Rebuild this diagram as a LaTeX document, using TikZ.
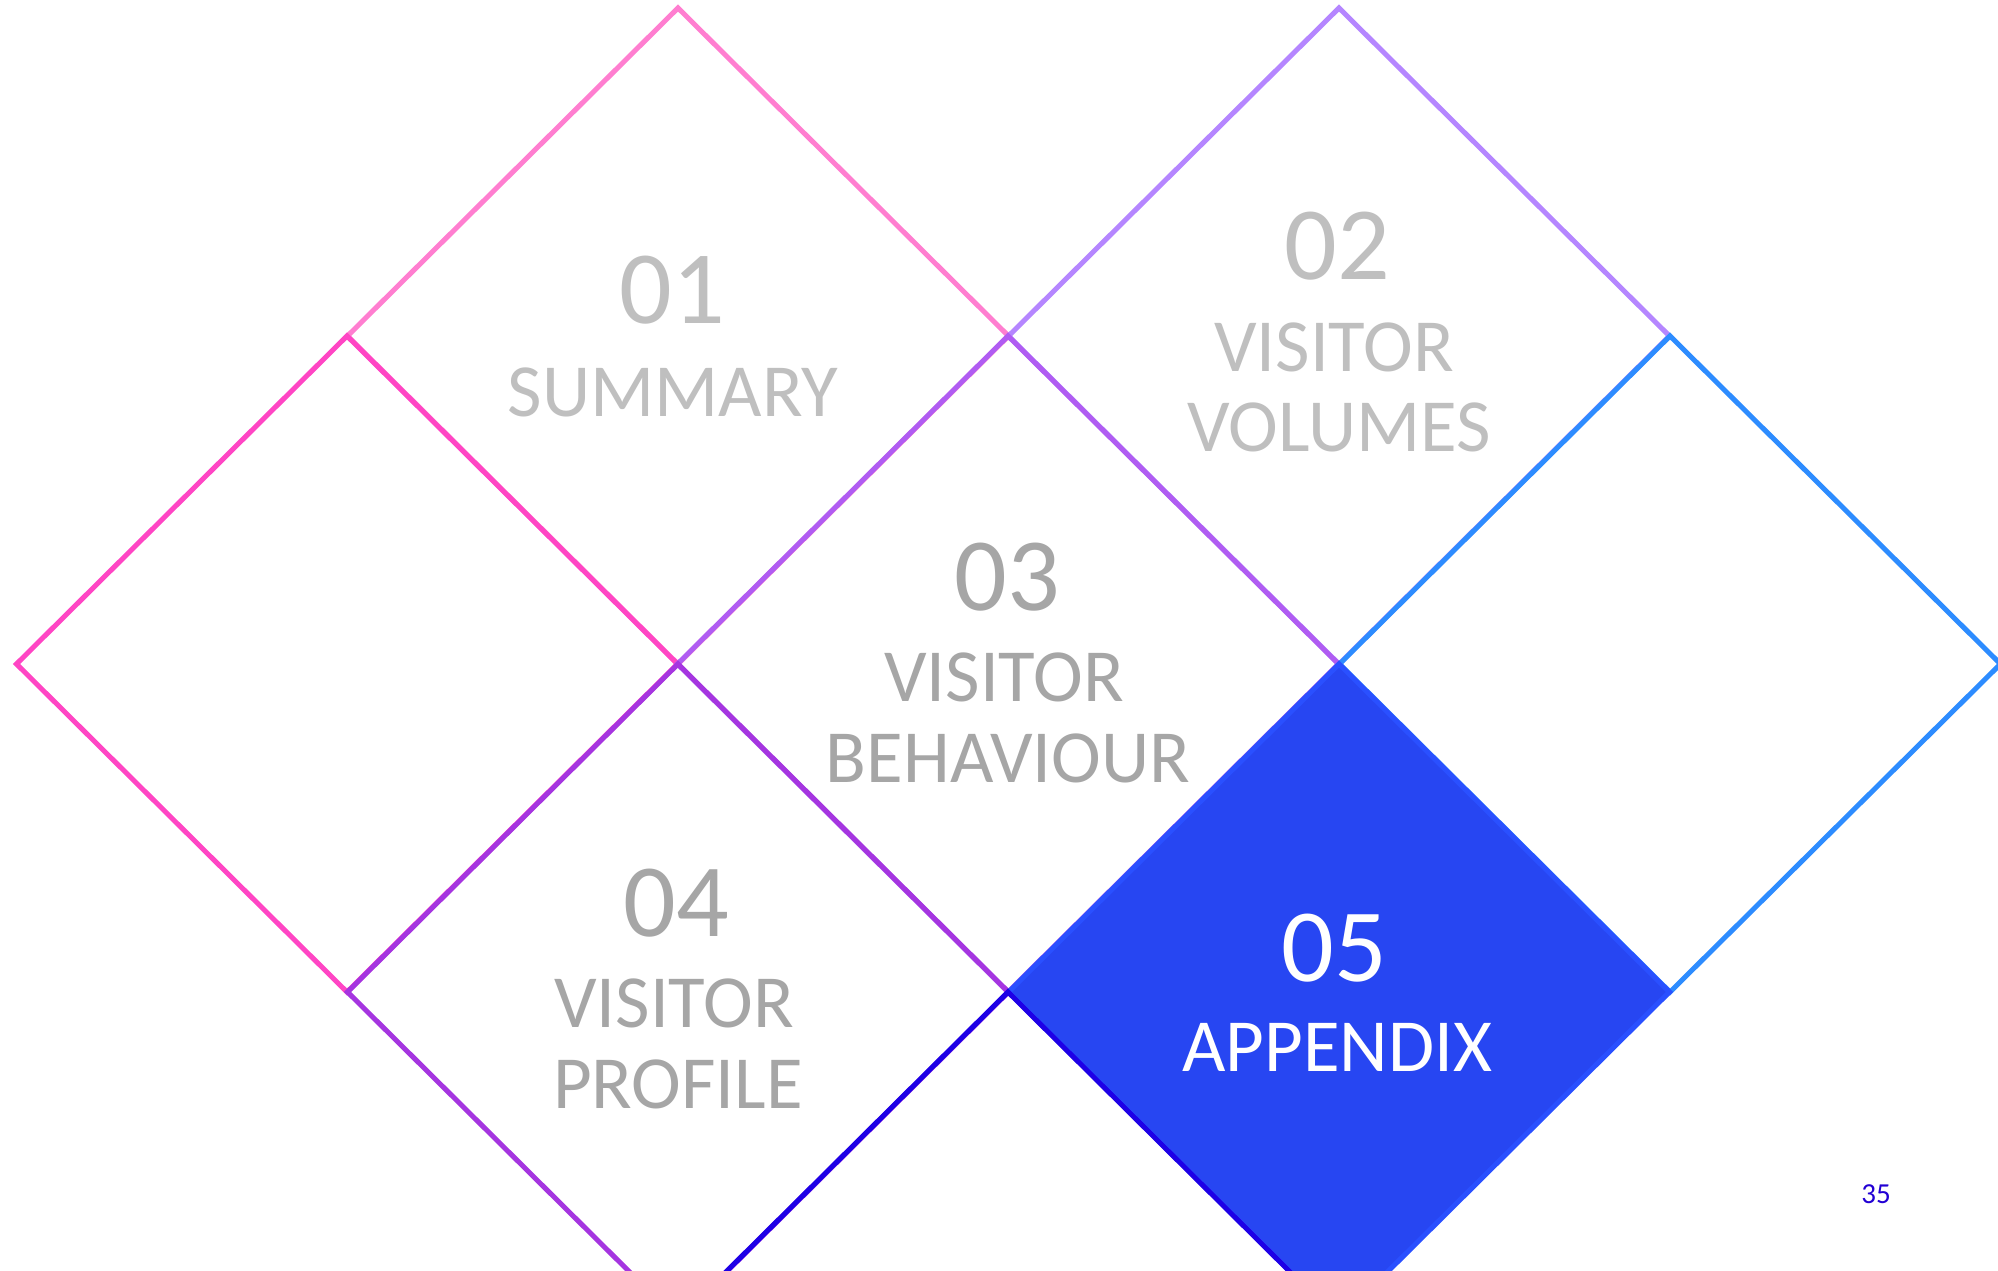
\documentclass[tikz,border=0pt]{standalone}
\usepackage{fontspec}
\setmainfont{Carlito}
\usetikzlibrary{positioning}
\definecolor{pinklt}{HTML}{FF7ED0}
\definecolor{pinkhot}{HTML}{FF45C4}
\definecolor{lavender}{HTML}{B586FF}
\definecolor{purplemid}{HTML}{B05CF2}
\definecolor{skyblue}{HTML}{2D8CFF}
\definecolor{violetmid}{HTML}{A535E0}
\definecolor{royalfill}{HTML}{2746F2}
\definecolor{royaledge}{HTML}{2A50FF}
\definecolor{inkblue}{HTML}{1E00E6}
\definecolor{greylt}{HTML}{BFBFBF}
\definecolor{greydk}{HTML}{A6A6A6}
\definecolor{pagenum}{HTML}{2200D4}

\begin{document}
\begin{tikzpicture}[x=1pt,y=-1pt,
  tile/.style={line width=5pt},
  num/.style={inner sep=0pt,font=\fontsize{104}{110}\selectfont},
  lab/.style={inner sep=0pt,font=\fontsize{75}{80}\selectfont}]
\useasboundingbox (0,0) rectangle (1998,1271);
\clip (0,0) rectangle (1998,1271);
\fill[white] (0,0) rectangle (1998,1271);
% outlined tiles, back to front
\foreach \cx/\cy/\col in {678/336/pinklt,1339/336/lavender,347/664/pinkhot,1008/664/purplemid,1670/664/skyblue,678/992/violetmid}
  \draw[tile,\col] (\cx-330.5,\cy) -- (\cx,\cy-328) -- (\cx+330.5,\cy) -- (\cx,\cy+328) -- cycle;
% the highlighted tile and the one below the page
\filldraw[tile,fill=royalfill,draw=royaledge] (1008.5,992) -- (1339,664) -- (1669.5,992) -- (1339,1320) -- cycle;
\draw[tile,inkblue] (677.5,1320) -- (1008,992) -- (1338.5,1320) -- (1008,1648) -- cycle;
% labels
\node[num,text=greylt] (n01) at (672,290) {01};
\node[lab,text=greylt] (s01) at (673,392) {SUMMARY};
\node[num,text=greylt] (n02) at (1337,246) {02};
\node[lab,text=greylt] (s02a) at (1334,347) {VISITOR};
\node[lab,text=greylt] (s02b) at (1339,427) {VOLUMES};
\node[num,text=greydk] (n03) at (1007,577) {03};
\node[lab,text=greydk] (s03a) at (1004,677) {VISITOR};
\node[lab,text=greydk] (s03b) at (1008,758) {BEHAVIOUR};
\node[num,text=greydk] (n04) at (676,903) {04};
\node[lab,text=greydk] (s04a) at (674,1003) {VISITOR};
\node[lab,text=greydk] (s04b) at (678,1084) {PROFILE};
\node[num,text=white] (n05) at (1334,948) {05};
\node[lab,text=white] (s05) at (1337,1047) {APPENDIX};
\node[inner sep=0pt,font=\fontsize{29}{32}\selectfont,text=pagenum] (pg) at (1876,1194) {35};
\end{tikzpicture}
\end{document}
